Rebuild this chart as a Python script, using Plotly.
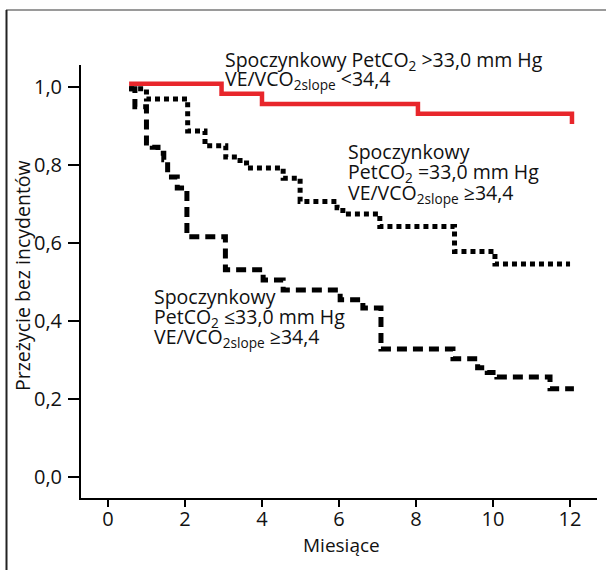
import plotly.graph_objects as go

# ---- data ----
months_high = [0.55, 2.95, 4.0, 8.05, 12.05]
surv_high = [1.008, 0.982, 0.956, 0.931, 0.905]

months_mid = [0.55, 1.0, 2.07, 2.52, 3.06, 3.43, 3.6, 4.55, 4.99, 5.95, 6.1, 7.06, 9.0, 10.05, 12.0]
surv_mid = [0.995, 0.969, 0.887, 0.849, 0.82, 0.805, 0.792, 0.766, 0.706, 0.69, 0.674, 0.642, 0.578, 0.546, 0.546]

months_low = [0.55, 0.7, 1.0, 1.15, 1.3, 1.45, 1.55, 1.8, 2.05, 3.05, 4.03, 4.55, 6.03,
              6.62, 7.09, 8.96, 9.6, 9.85, 10.1, 11.48, 12.1]
surv_low = [0.995, 0.949, 0.856, 0.845, 0.83, 0.813, 0.769, 0.741, 0.616, 0.531, 0.505, 0.479, 0.454,
            0.433, 0.328, 0.303, 0.28, 0.268, 0.256, 0.226, 0.226]

x_ticks = [0, 2, 4, 6, 8, 10, 12]
x_labels = ["0", "2", "4", "6", "8", "10", "12"]
y_ticks = [0.0, 0.2, 0.4, 0.6, 0.8, 1.0]
y_labels = ["0,0", "0,2", "0,4", "0,6", "0,8", "1,0"]

FONT = "Open Sans"
W, H = 606, 570
L, R, T, B = 81, 597, 65, 498


def px(x):
    return (x - L) / (R - L)


def py(y):
    return (B - y) / (B - T)


fig = go.Figure()
fig.add_trace(go.Scatter(x=months_high, y=surv_high, mode="lines", line_shape="hv",
                         line=dict(color="#e8262b", width=4.5), showlegend=False))
fig.add_trace(go.Scatter(x=months_mid, y=surv_mid, mode="lines", line_shape="hv",
                         line=dict(color="black", width=5, dash="5px,4px"), showlegend=False))
fig.add_trace(go.Scatter(x=months_low, y=surv_low, mode="lines", line_shape="hv",
                         line=dict(color="black", width=5, dash="10px,6px"), showlegend=False))

fs = 19.5
lines = [
    (224, 66, "Spoczynkowy PetCO<sub>2</sub> >33,0 mm Hg"),
    (224, 85, "VE/VCO<sub>2slope</sub> <34,4"),
    (347, 158, "Spoczynkowy"),
    (347, 178, "PetCO<sub>2</sub> =33,0 mm Hg"),
    (347, 199, "VE/VCO<sub>2slope</sub> ≥34,4"),
    (153, 303, "Spoczynkowy"),
    (153, 323, "PetCO<sub>2</sub> ≤33,0 mm Hg"),
    (153, 343, "VE/VCO<sub>2slope</sub> ≥34,4"),
]
ann = []
for x, base, txt in lines:
    ann.append(dict(x=px(x), y=py(base - 1.07 * fs), xref="paper", yref="paper", xanchor="left",
                    yanchor="top", text=txt, showarrow=False,
                    font=dict(family=FONT, size=fs, color="#111"), borderpad=0, align="left"))
ann.append(dict(x=px(341), y=py(545), xref="paper", yref="paper", xanchor="center", yanchor="middle",
                text="Miesiące", showarrow=False, font=dict(family=FONT, size=19, color="#111")))
ann.append(dict(x=px(22), y=py(276), xref="paper", yref="paper", xanchor="center", yanchor="middle",
                text="Przeżycie bez incydentów", textangle=-90, showarrow=False,
                font=dict(family=FONT, size=19.5, color="#111")))

shapes = [
    dict(type="line", xref="paper", yref="paper", x0=px(6), x1=px(606), y0=py(10), y1=py(10),
         line=dict(color="#9a9a9a", width=2)),
    dict(type="line", xref="paper", yref="paper", x0=px(6.5), x1=px(6.5), y0=py(10), y1=py(570),
         line=dict(color="#222", width=2)),
]

fig.update_layout(
    width=W, height=H, margin=dict(l=L, r=W - R, t=T, b=H - B),
    paper_bgcolor="white", plot_bgcolor="white",
    annotations=ann, shapes=shapes,
    xaxis=dict(range=[-0.70, 12.70], tickvals=x_ticks, ticktext=x_labels, showgrid=False, zeroline=False,
               showline=True, linecolor="black", linewidth=2, ticks="outside", ticklen=7, tickwidth=2,
               tickcolor="black", ticklabelstandoff=-5,
               tickfont=dict(family=FONT, size=20, color="#111")),
    yaxis=dict(range=[-0.054, 1.056], tickvals=y_ticks, ticktext=y_labels, showgrid=False, zeroline=False,
               showline=True, linecolor="black", linewidth=2, ticks="outside", ticklen=11, tickwidth=2,
               tickcolor="black", ticklabelstandoff=2,
               tickfont=dict(family=FONT, size=20, color="#111")),
)
fig.write_html("out.html")
